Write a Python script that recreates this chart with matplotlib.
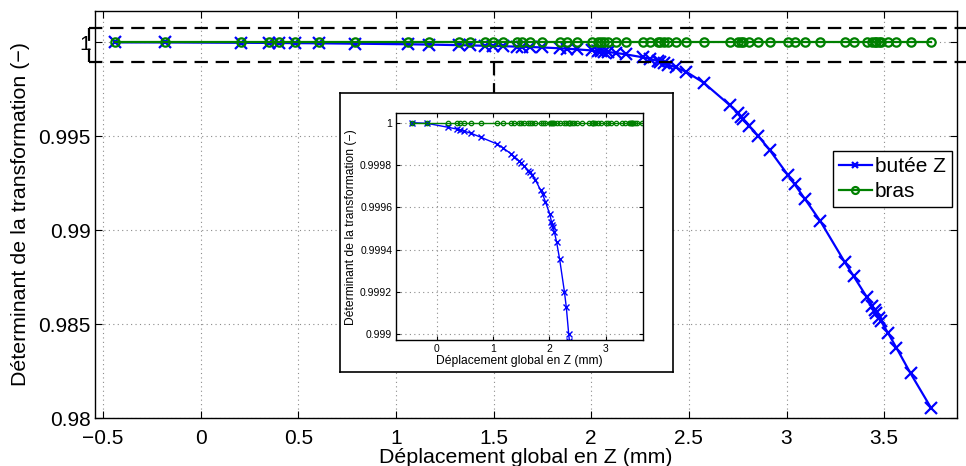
import matplotlib
matplotlib.use("Agg")
import matplotlib.pyplot as plt
from matplotlib.ticker import FixedLocator, FixedFormatter

plt.rcParams['font.family'] = ['Liberation Sans', 'DejaVu Sans']

# ---- data ----
x_disp = [-0.44, -0.18, 0.205, 0.351, 0.402, 0.483, 0.607, 0.790, 1.062, 1.168,
          1.322, 1.378, 1.455, 1.497, 1.546, 1.622, 1.648, 1.689, 1.748, 1.842,
          1.878, 1.927, 2.006, 2.035, 2.052, 2.064, 2.086, 2.125, 2.180, 2.265,
          2.299, 2.342, 2.354, 2.371, 2.393, 2.432, 2.487, 2.576, 2.709, 2.751,
          2.769, 2.777, 2.808, 2.854, 2.913, 3.007, 3.041, 3.093, 3.173, 3.297,
          3.343, 3.411, 3.439, 3.451, 3.460, 3.473, 3.485, 3.519, 3.562, 3.635,
          3.741]
det_butee = [1.0, 0.999997, 0.999978, 0.99997, 0.999965, 0.99996, 0.99995, 0.99993, 0.9999, 0.999882,
             0.999852, 0.999839, 0.99982, 0.99981, 0.999797, 0.999772, 0.999765, 0.999753, 0.99973, 0.999682,
             0.999661, 0.999627, 0.999567, 0.999532, 0.999517, 0.999505, 0.999485, 0.999438, 0.999356, 0.999202,
             0.999128, 0.999, 0.99897, 0.9989, 0.99882, 0.99867, 0.99843, 0.99785, 0.99666, 0.99625,
             0.99605, 0.9959, 0.99556, 0.99503, 0.99428, 0.99294, 0.99245, 0.99168, 0.99048, 0.98832,
             0.98756, 0.98644, 0.98597, 0.98575, 0.98557, 0.98534, 0.98514, 0.98454, 0.98375, 0.98238,
             0.98052]
det_bras = [1.0, 1.0, 1.0, 1.0, 1.0, 1.0, 1.0, 1.0, 1.0, 1.0,
            1.0, 1.0, 1.0, 1.0, 1.0, 1.0, 1.0, 1.0, 1.0, 1.0,
            1.0, 1.0, 1.0, 1.0, 1.0, 1.0, 1.0, 1.0, 1.0, 1.0,
            1.0, 1.0, 1.0, 1.0, 1.0, 1.0, 1.0, 1.0, 1.0, 1.0,
            1.0, 1.0, 1.0, 1.0, 1.0, 1.0, 1.0, 1.0, 1.0, 1.0,
            1.0, 1.0, 1.0, 1.0, 1.0, 1.0, 1.0, 1.0, 1.0, 1.0,
            1.0]

series_labels = ['butée Z', 'bras']
main_xticks = [-0.5, 0, 0.5, 1, 1.5, 2, 2.5, 3, 3.5]
main_xticklabels = ['\u22120.5', '0', '0.5', '1', '1.5', '2', '2.5', '3', '3.5']
main_yticks = [0.98, 0.985, 0.99, 0.995, 1.0]
main_yticklabels = ['0.98', '0.985', '0.99', '0.995', '1']
inset_xticks = [0, 1, 2, 3]
inset_xticklabels = ['0', '1', '2', '3']
inset_yticks = [0.999, 0.9992, 0.9994, 0.9996, 0.9998, 1.0]
inset_yticklabels = ['0.999', '0.9992', '0.9994', '0.9996', '0.9998', '1']
xlabel = 'Déplacement global en Z (mm)'
ylabel = 'Déterminant de la transformation (\u2212)'

BLUE = (0, 0, 1)
GREEN = (0, 0.5, 0)

fig = plt.figure(figsize=(9.66, 4.66), dpi=100)

def style_axes(ax, fs, ticklen, xpad, ypad):
    ax.grid(True, color='0.55', linestyle=(0, (1, 3)), linewidth=0.8)
    ax.tick_params(direction='in', top=True, right=True, length=ticklen,
                   width=0.8, labelsize=fs)
    ax.tick_params(axis='x', pad=xpad)
    ax.tick_params(axis='y', pad=ypad)
    for s in ax.spines.values():
        s.set_linewidth(1.0)

# ---- main axes ----
ax = fig.add_axes([0.0983, 0.103, 0.8924, 0.8734])
ax.plot(x_disp, det_butee, '-', color=BLUE, lw=1.6, marker='x', ms=8, mew=1.6,
        label=series_labels[0])
ax.plot(x_disp, det_bras, '-', color=GREEN, lw=1.6, marker='o', ms=6, mew=1.6,
        mfc='none', label=series_labels[1])
ax.set_xlim(-0.541, 3.873)
ax.set_ylim(0.98, 1.00167)
ax.xaxis.set_major_locator(FixedLocator(main_xticks))
ax.xaxis.set_major_formatter(FixedFormatter(main_xticklabels))
ax.yaxis.set_major_locator(FixedLocator(main_yticks))
ax.yaxis.set_major_formatter(FixedFormatter(main_yticklabels))
style_axes(ax, 15, 5, 8.0, 3.0)
ax.set_xlabel(xlabel, fontsize=15.4, labelpad=0)
ax.set_ylabel(ylabel, fontsize=15.4, labelpad=6)

leg = ax.legend(loc='upper right', bbox_to_anchor=(0.9945, 0.657), fontsize=15,
                frameon=True, fancybox=False, edgecolor='black', framealpha=1,
                handlelength=1.55, handletextpad=0.17, borderpad=0.3,
                labelspacing=0.3, borderaxespad=0)
leg.get_frame().set_linewidth(1.0)
for h in leg.legend_handles:
    h.set_markersize(5)

# dashed zoom rectangle + connector
dash = (0, (6, 3.5))
rx0, rx1 = -0.572, 4.2
ry0, ry1 = 0.998935, 1.000745
for xs, ys in [([rx0, rx1], [ry1, ry1]), ([rx0, rx1], [ry0, ry0]),
               ([rx0, rx0], [ry0, ry1]), ([1.5, 1.5], [ry0, 0.99728])]:
    ax.plot(xs, ys, color='black', lw=1.6, linestyle=dash, clip_on=False, zorder=5)

# ---- inset frame ----
frame = fig.add_axes([0.352, 0.2024, 0.345, 0.597])
frame.set_xticks([])
frame.set_yticks([])
frame.set_facecolor('white')
for s in frame.spines.values():
    s.set_linewidth(1.2)
frame.set_zorder(3)

# ---- inset axes ----
axi = fig.add_axes([0.4096, 0.2704, 0.2563, 0.4865])
axi.set_zorder(4)
axi.plot(x_disp, det_butee, '-', color=BLUE, lw=1.0, marker='x', ms=4, mew=1.0)
axi.plot(x_disp, det_bras, '-', color=GREEN, lw=1.0, marker='o', ms=3.2, mew=0.9,
         mfc='none')
axi.set_xlim(-0.732, 3.666)
axi.set_ylim(0.998973, 1.0000444)
axi.xaxis.set_major_locator(FixedLocator(inset_xticks))
axi.xaxis.set_major_formatter(FixedFormatter(inset_xticklabels))
axi.yaxis.set_major_locator(FixedLocator(inset_yticks))
axi.yaxis.set_major_formatter(FixedFormatter(inset_yticklabels))
style_axes(axi, 7.5, 3, 3.0, 2.5)
axi.set_xlabel(xlabel, fontsize=8.7, labelpad=0.5)
axi.set_ylabel(ylabel, fontsize=8.7, labelpad=2)

fig.savefig('out.png', dpi=100)
